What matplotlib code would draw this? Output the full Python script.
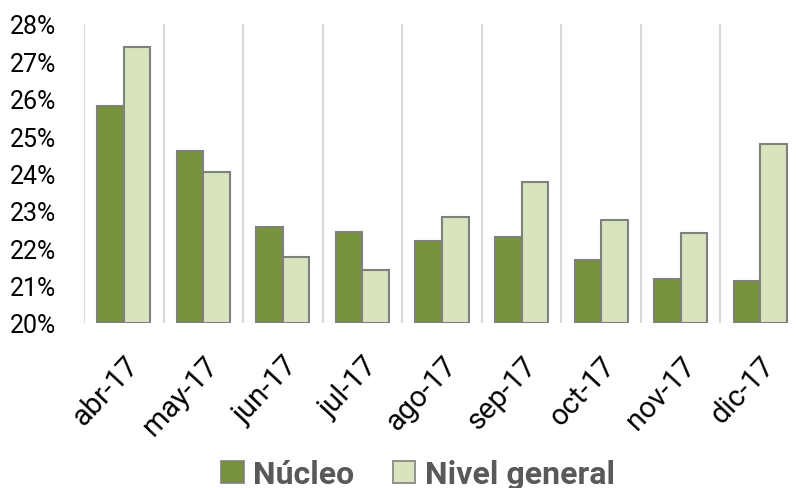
import numpy as np
import matplotlib.pyplot as plt
from matplotlib import font_manager
from matplotlib.patches import Patch

# Datos
meses = ['abr-17', 'may-17', 'jun-17', 'jul-17', 'ago-17', 'sep-17', 'oct-17', 'nov-17', 'dic-17']
nucleo = [25.80, 24.60, 22.57, 22.43, 22.20, 22.29, 21.68, 21.17, 21.13]
nivel_general = [27.38, 24.04, 21.77, 21.41, 22.84, 23.77, 22.76, 22.42, 24.79]
yticks = [20, 21, 22, 23, 24, 25, 26, 27, 28]

disponibles = {f.name for f in font_manager.fontManager.ttflist}
fuente = 'Liberation Sans Narrow' if 'Liberation Sans Narrow' in disponibles else 'Roboto'
plt.rcParams['font.family'] = [fuente, 'DejaVu Sans']

verde = '#77933C'
verde_claro = '#D7E4BD'
borde = '#808080'

fig = plt.figure(figsize=(7.96, 4.89), dpi=100)
ax = fig.add_axes([84 / 796, 165 / 489, 716 / 796, 299 / 489])

x = np.arange(len(meses))
w = 1 / 3
ymin = yticks[0]
ax.bar(x - w / 2, np.array(nucleo) - ymin, w, bottom=ymin, color=verde,
       edgecolor=borde, linewidth=1.5, zorder=3)
ax.bar(x + w / 2, np.array(nivel_general) - ymin, w, bottom=ymin, color=verde_claro,
       edgecolor=borde, linewidth=1.5, zorder=3)

ax.set_xlim(-0.5, len(meses) - 0.5)
ax.set_ylim(yticks[0], yticks[-1])
ax.set_yticks(yticks)
ax.set_yticklabels([f'{v}%' for v in yticks])
ax.set_xticks(x)
ax.set_xticklabels(meses, rotation=47, ha='right', rotation_mode='anchor')
ax.set_xticks(np.arange(len(meses) + 1) - 0.5, minor=True)
ax.grid(True, which='minor', axis='x', color='#D9D9D9', linewidth=1.5, zorder=0)
ax.grid(False, which='major')

for s in ax.spines.values():
    s.set_visible(False)
ax.tick_params(axis='both', which='both', length=0)
ax.tick_params(axis='y', labelsize=18, pad=20)
ax.tick_params(axis='x', labelsize=21, pad=20)

handles = [Patch(facecolor=verde, edgecolor=borde, linewidth=1.2, label='Núcleo'),
           Patch(facecolor=verde_claro, edgecolor=borde, linewidth=1.2, label='Nivel general')]
fig.legend(handles=handles, loc='center', bbox_to_anchor=(0.525, 14 / 489), ncol=2,
           frameon=False, prop={'size': 23, 'weight': 'bold'}, labelcolor='#595959',
           handlelength=0.7, handleheight=0.7, handletextpad=0.3, columnspacing=1.2)

fig.savefig('out.png', dpi=100)
